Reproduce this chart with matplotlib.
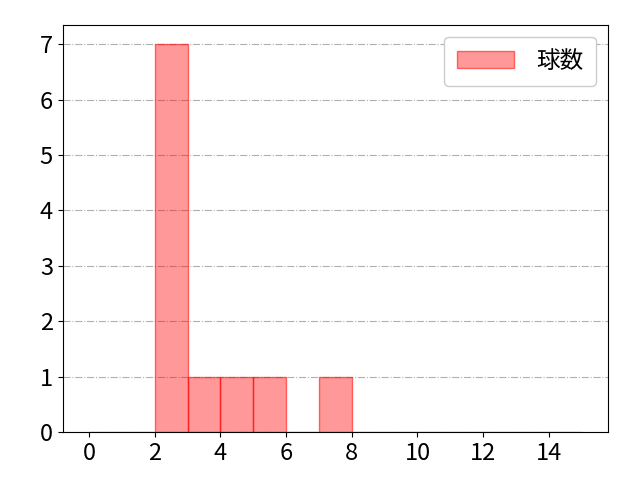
import numpy as np
import matplotlib
matplotlib.use("Agg")
import matplotlib.pyplot as plt

plt.rcParams['font.family'] = ['Noto Sans CJK JP', 'DejaVu Sans']

# pitch counts (one entry per occurrence)
pitches = [2, 2, 2, 2, 2, 2, 2, 3, 4, 5, 7]
bin_edges = list(range(0, 16))
label = "球数"

fig, ax = plt.subplots(figsize=(6.4, 4.8), dpi=100)
fig.subplots_adjust(left=0.098, right=0.95, top=0.948, bottom=0.1)

ax.hist(pitches, bins=bin_edges, color=(1, 0, 0, 0.4), edgecolor=(1, 0, 0, 0.55),
        linewidth=1, label=label, zorder=2)
ax.grid(axis="y", color="#b0b0b0", linestyle="-.", linewidth=0.8, zorder=0)
ax.set_axisbelow(True)

ax.set_xlim(-0.8, 15.8)
ax.set_ylim(0, 7.35)
ax.set_xticks(range(0, 16, 2))
ax.set_yticks(range(0, 8))
ax.tick_params(labelsize=17)

ax.legend(loc="upper right", fontsize=17, handlelength=2.4, handletextpad=0.95,
          borderpad=0.55, framealpha=1)

fig.savefig("out.png")
